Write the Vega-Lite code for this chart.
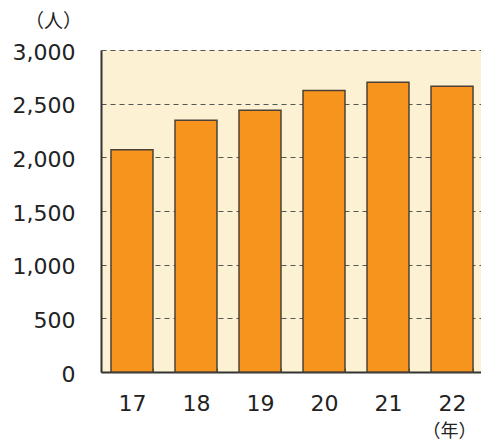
{
  "$schema": "https://vega.github.io/schema/vega-lite/v6.json",
  "width": 382,
  "height": 322,
  "autosize": {"type": "none"},
  "padding": {"left": 101, "top": 50, "right": 0, "bottom": 69},
  "background": "white",
  "config": {
    "view": {"fill": "#FCF1D3", "stroke": null},
    "font": "DejaVu Sans"
  },
  "data": {
    "values": [
      {"year": "17", "count": 2070},
      {"year": "18", "count": 2346},
      {"year": "19", "count": 2439},
      {"year": "20", "count": 2623},
      {"year": "21", "count": 2700},
      {"year": "22", "count": 2663}
    ]
  },
  "mark": {"type": "bar", "color": "#F7941D", "stroke": "#4D4137", "strokeWidth": 1.5},
  "encoding": {
    "x": {
      "field": "year",
      "type": "ordinal",
      "sort": null,
      "scale": {"paddingInner": 0.344, "paddingOuter": 0.156},
      "axis": {
        "labelAngle": 0,
        "labelFontSize": 22,
        "labelColor": "#222",
        "labelPadding": 25,
        "tickBand": "extent",
        "tickSize": -4,
        "tickColor": "#555",
        "tickWidth": 1,
        "domainColor": "#333",
        "domainWidth": 2,
        "grid": false,
        "title": "（年）",
        "titleFont": "Noto Sans CJK JP",
        "titleFontSize": 18,
        "titleFontWeight": "normal",
        "titleColor": "#222",
        "titleX": 348,
        "titleY": 59,
        "titleAlign": "center",
        "titleBaseline": "middle"
      }
    },
    "y": {
      "field": "count",
      "type": "quantitative",
      "scale": {"domain": [0, 3000], "nice": false},
      "axis": {
        "values": [0, 500, 1000, 1500, 2000, 2500, 3000],
        "format": ",.0f",
        "labelFontSize": 22,
        "labelColor": "#222",
        "labelPadding": 26,
        "labelOffset": 2,
        "ticks": false,
        "grid": true,
        "gridDash": [5, 4],
        "gridColor": "#555",
        "gridWidth": 1,
        "domainColor": "#333",
        "domainWidth": 2,
        "title": "（人）",
        "titleFont": "Noto Sans CJK JP",
        "titleFontSize": 19,
        "titleFontWeight": "normal",
        "titleColor": "#222",
        "titleAngle": 0,
        "titleX": -48,
        "titleY": -29,
        "titleAlign": "center",
        "titleBaseline": "middle"
      }
    }
  }
}
